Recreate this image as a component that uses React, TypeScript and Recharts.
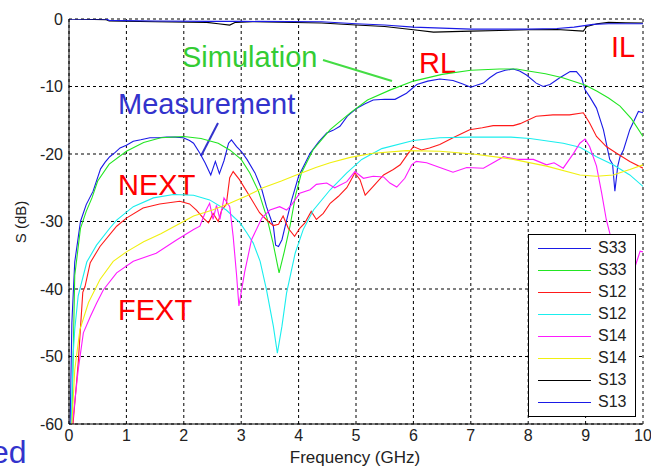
import React from 'react';
import { LineChart, Line, XAxis, YAxis, CartesianGrid, Legend } from 'recharts';

const FREQ_TICKS = [0, 1, 2, 3, 4, 5, 6, 7, 8, 9, 10];
const DB_TICKS = [-60, -50, -40, -30, -20, -10, 0];

// RL measurement (S33, blue)
const S33_MEAS: [number, number][] = [
  [0.02, -60], [0.05, -45], [0.1, -36], [0.2, -30], [0.3, -27.5], [0.42, -25.5], [0.55, -22.2],
  [0.63, -21.2], [0.71, -20.4], [0.8, -19.8], [0.89, -19.1], [1.0, -18.7], [1.12, -18.1],
  [1.25, -17.9], [1.41, -17.6], [1.55, -17.6], [1.7, -17.5], [1.85, -17.5], [1.99, -17.6],
  [2.1, -18.0], [2.17, -18.4], [2.28, -19.9], [2.37, -21.3], [2.47, -23.1], [2.55, -21.1],
  [2.62, -22.9], [2.7, -21.0], [2.78, -18.4], [2.83, -17.9], [2.92, -18.9], [3.0, -19.6],
  [3.1, -20.8], [3.24, -22.8], [3.36, -25.3], [3.44, -27.8], [3.56, -30.7], [3.6, -33.5],
  [3.65, -33.7], [3.71, -32.7], [3.78, -30.2], [3.88, -26.8], [4.0, -23.3], [4.2, -19.9],
  [4.35, -18.2], [4.49, -16.9], [4.6, -16.5], [4.72, -15.9], [4.85, -14.4], [5.0, -13.3],
  [5.15, -12.6], [5.3, -12.0], [5.5, -11.9], [5.68, -11.9], [5.88, -11.0], [6.06, -9.7],
  [6.25, -9.2], [6.46, -8.9], [6.69, -9.1], [6.85, -9.6], [7.0, -10.1], [7.1, -9.8],
  [7.22, -9.5], [7.33, -8.7], [7.45, -8.0], [7.6, -7.6], [7.74, -7.4], [7.85, -7.7],
  [7.97, -8.3], [8.14, -9.5], [8.26, -10.0], [8.38, -9.7], [8.55, -8.7], [8.73, -7.8],
  [8.84, -7.8], [8.93, -8.7], [8.99, -10.5], [9.07, -11.5], [9.19, -13.2], [9.31, -16.4],
  [9.42, -20.8], [9.47, -21.5], [9.51, -25.5], [9.56, -21.8], [9.6, -20.4], [9.66, -19.4],
  [9.77, -16.4], [9.92, -13.7], [10, -13.9],
];

// RL simulation (S33, green)
const S33_SIM: [number, number][] = [
  [0.05, -60], [0.1, -38], [0.2, -31], [0.3, -28.5], [0.4, -26.5], [0.5, -24], [0.7, -21.5],
  [1.0, -19.6], [1.3, -18.3], [1.6, -17.6], [2.0, -17.4], [2.3, -17.7], [2.6, -18.4],
  [2.8, -19.4], [3.0, -20.8], [3.15, -22.8], [3.3, -25.5], [3.45, -29.5], [3.55, -33],
  [3.66, -37.6], [3.75, -34.5], [3.85, -30.7], [3.95, -26], [4.05, -22.8], [4.25, -19.4],
  [4.55, -16.4], [4.9, -13.9], [5.2, -12.0], [5.6, -10.5], [6.0, -9.2], [6.5, -8.2],
  [7.0, -7.6], [7.5, -7.4], [7.8, -7.4], [8.0, -7.7], [8.3, -8.1], [8.6, -8.7], [9.0, -9.8],
  [9.2, -10.7], [9.4, -11.7], [9.6, -12.9], [9.8, -14.8], [10, -17.4],
];

// NEXT measurement (S12, red)
const S12_MEAS: [number, number][] = [
  [0.07, -60], [0.16, -51], [0.24, -40.5], [0.28, -39.6], [0.37, -36.1], [0.54, -33.7],
  [0.83, -30.7], [1.0, -29.5], [1.29, -28.0], [1.58, -27.4], [1.93, -27.0], [2.1, -27.4],
  [2.22, -28.3], [2.34, -29.5], [2.43, -30.2], [2.51, -28.8], [2.6, -30], [2.66, -28.3],
  [2.74, -27.5], [2.8, -23.5], [2.86, -22.6], [2.97, -23.8], [3.15, -26.3], [3.32, -28.7],
  [3.47, -30], [3.56, -30.6], [3.65, -30.4], [3.73, -29.2], [3.82, -31.0], [3.93, -32.2],
  [4.02, -31], [4.11, -30.2], [4.22, -28.5], [4.31, -29.7], [4.43, -28.8], [4.55, -27.3],
  [4.69, -26.3], [4.84, -25], [4.98, -22.8], [5.07, -23.8], [5.16, -26.1], [5.3, -24.8],
  [5.48, -23.1], [5.65, -22.3], [5.77, -21.6], [5.91, -19.9], [6.0, -18.9], [6.14, -19.4],
  [6.28, -19.1], [6.46, -18.6], [6.69, -17.6], [6.98, -16.4], [7.2, -16.1], [7.39, -15.8],
  [7.74, -15.8], [7.86, -15.5], [8.14, -14.4], [8.43, -14.2], [8.72, -14.2], [8.96, -13.9],
  [9.07, -15.4], [9.19, -17.4], [9.36, -18.9], [9.54, -19.9], [9.77, -21.1], [10, -22.1],
];

// NEXT simulation (S12, cyan)
const S12_SIM: [number, number][] = [
  [0.04, -60], [0.07, -50], [0.1, -46], [0.16, -41], [0.31, -36], [0.48, -33.5], [0.71, -31],
  [0.83, -29.8], [1.12, -27.8], [1.47, -26.5], [1.82, -26.0], [2.17, -26.1], [2.45, -26.8],
  [2.74, -28.3], [2.98, -30.2], [3.1, -31.7], [3.21, -33.2], [3.33, -35.9], [3.44, -40.1],
  [3.56, -45.5], [3.63, -49.5], [3.71, -45.5], [3.79, -40.6], [3.94, -34.7], [4.08, -31.2],
  [4.26, -28.3], [4.55, -25.3], [4.84, -22.8], [5.1, -20.8], [5.45, -19.2], [6.0, -18.0],
  [6.46, -17.6], [7.0, -17.5], [7.7, -17.5], [8.03, -17.7], [8.61, -18.4], [8.9, -19.0],
  [9.19, -20.4], [9.48, -21.6], [9.77, -23.1], [10, -24.8],
];

// FEXT measurement (S14, magenta)
const S14_MEAS: [number, number][] = [
  [0.06, -60], [0.16, -52], [0.25, -46.5], [0.37, -44.1], [0.48, -42.1], [0.6, -40.1],
  [0.83, -37.6], [1.12, -35.9], [1.52, -34.7], [1.88, -32.7], [2.17, -31.2], [2.28, -30.7],
  [2.39, -28.3], [2.45, -27.3], [2.51, -29.7], [2.57, -27.6], [2.63, -29.7], [2.7, -26.5],
  [2.8, -27.8], [2.86, -32.2], [2.92, -38], [2.96, -42.5], [3.06, -37.5], [3.18, -32.7],
  [3.36, -29.5], [3.5, -28.3], [3.67, -27.8], [3.79, -28.3], [3.88, -27.5], [4.02, -25.8],
  [4.2, -25.3], [4.31, -24.5], [4.49, -24.3], [4.63, -25.0], [4.84, -24.1], [4.98, -22.6],
  [5.13, -23.6], [5.3, -23.3], [5.48, -23.4], [5.59, -24.3], [5.71, -24.9], [5.85, -23.6],
  [5.97, -21.6], [6.05, -21.1], [6.23, -21.3], [6.46, -22.0], [6.69, -22.7], [6.93, -22.0],
  [7.22, -22.1], [7.45, -21.0], [7.57, -20.4], [7.8, -20.8], [8.09, -20.8], [8.32, -21.6],
  [8.45, -21.3], [8.61, -22.1], [8.79, -19.9], [8.9, -18.4], [8.99, -17.8], [9.07, -18.9],
  [9.19, -21.8], [9.28, -25.8], [9.36, -29.7], [9.45, -32.7], [9.6, -37], [9.75, -39],
  [9.85, -37], [9.9, -35.7], [9.95, -34.4], [10, -34.5],
];

// FEXT simulation (S14, yellow)
const S14_SIM: [number, number][] = [
  [0.05, -60], [0.1, -52], [0.19, -46], [0.34, -42], [0.54, -38.6], [0.77, -35.9], [1.0, -34.5],
  [1.3, -33], [1.6, -31.8], [1.93, -30.3], [2.17, -29.2], [2.5, -28.3], [2.8, -27.3],
  [3.1, -26.2], [3.38, -25.0], [3.7, -24.0], [3.96, -23.1], [4.3, -22], [4.55, -21.3],
  [4.9, -20.5], [5.3, -19.9], [5.88, -19.5], [6.46, -19.6], [7.04, -20.0], [7.5, -20.5],
  [7.74, -20.8], [8.32, -21.8], [8.9, -23.1], [9.19, -23.3], [9.48, -23.1], [9.77, -22.3],
  [10, -21.6],
];

// IL simulation (S13, black)
const S13_SIM: [number, number][] = [
  [0, 0], [0.65, -0.1], [0.7, -0.3], [1.5, -0.4], [2.4, -0.5], [2.6, -0.7], [2.8, -0.9],
  [2.9, -0.5], [3.2, -0.4], [4.4, -0.6], [5.0, -0.9], [5.5, -1.1], [6.0, -1.6], [6.35, -1.95],
  [7.0, -1.8], [7.5, -1.7], [8.0, -1.6], [8.5, -1.55], [8.96, -1.8], [9.02, -1.1], [9.2, -0.7],
  [9.4, -0.5], [9.7, -0.55], [10, -0.6],
];

// IL measurement (S13, blue)
const S13_MEAS: [number, number][] = [
  [0, 0], [0.65, 0], [0.7, -0.2], [1.5, -0.3], [2.4, -0.35], [3.0, -0.35], [4.4, -0.4],
  [5.0, -0.7], [5.5, -0.9], [6.0, -1.2], [7.0, -1.5], [8.0, -1.5], [8.5, -1.4], [8.8, -1.2],
  [9.13, -0.8], [9.4, -0.7], [10, -0.7],
];

const BLUE = '#1a1ae6';
const GREEN = '#22e622';
const RED = '#ff1a1a';
const CYAN = '#1aeeee';
const MAGENTA = '#ff1aff';
const YELLOW = '#f0f010';
const BLACK = '#000000';

const SERIES = [
  { key: 's33m', name: 'S33', color: BLUE, points: S33_MEAS },
  { key: 's33s', name: 'S33', color: GREEN, points: S33_SIM },
  { key: 's12m', name: 'S12', color: RED, points: S12_MEAS },
  { key: 's12s', name: 'S12', color: CYAN, points: S12_SIM },
  { key: 's14m', name: 'S14', color: MAGENTA, points: S14_MEAS },
  { key: 's14s', name: 'S14', color: YELLOW, points: S14_SIM },
  { key: 's13s', name: 'S13', color: BLACK, points: S13_SIM },
  { key: 's13m', name: 'S13', color: BLUE, points: S13_MEAS },
];

const toRows = (pts: [number, number][]) => pts.map(([f, v]) => ({ f, v }));

const FONT = '"Liberation Sans", Arial, sans-serif';

const LegendBox = () => (
  <div
    style={{
      boxSizing: 'border-box',
      width: 108,
      height: 183,
      border: '1px solid #000',
      background: '#fff',
      paddingTop: 2,
      fontFamily: FONT,
    }}
  >
    {SERIES.map((s) => (
      <div key={s.key} style={{ height: 22, display: 'flex', alignItems: 'center' }}>
        <div style={{ marginLeft: 9, width: 53, height: 0, borderTop: `1.5px solid ${s.color}` }} />
        <span style={{ marginLeft: 7, fontSize: 16, color: '#222', lineHeight: '22px' }}>{s.name}</span>
      </div>
    ))}
  </div>
);

export default function App() {
  return (
    <div style={{ position: 'absolute', left: 0, top: 0, width: 651, height: 466, background: '#fff', fontFamily: FONT }}>
      <LineChart width={651} height={466} margin={{ top: 19, right: 8, bottom: 12, left: 9 }}>
        <CartesianGrid stroke="#000" strokeDasharray="3 3" strokeWidth={1} />
        <XAxis
          dataKey="f"
          type="number"
          domain={[0, 10]}
          ticks={FREQ_TICKS}
          interval={0}
          allowDataOverflow
          height={30}
          tickLine={false}
          tickSize={4}
          tickMargin={2}
          axisLine={{ stroke: '#000' }}
          tick={{ fill: '#222', fontSize: 16, fontFamily: FONT }}
        />
        <YAxis
          type="number"
          domain={[-60, 0]}
          ticks={DB_TICKS}
          interval={0}
          allowDataOverflow
          width={60}
          tickLine={false}
          tickSize={4}
          tickMargin={2}
          axisLine={{ stroke: '#000' }}
          tick={{ fill: '#222', fontSize: 16, fontFamily: FONT }}
        />
        <XAxis
          xAxisId="top"
          orientation="top"
          type="number"
          domain={[0, 10]}
          ticks={FREQ_TICKS}
          interval={0}
          allowDataOverflow
          mirror
          height={0}
          tick={false}
          tickSize={5}
          tickLine={{ stroke: '#000' }}
          axisLine={{ stroke: '#000' }}
        />
        <XAxis
          xAxisId="bottomIn"
          orientation="bottom"
          type="number"
          domain={[0, 10]}
          ticks={FREQ_TICKS}
          interval={0}
          allowDataOverflow
          mirror
          height={0}
          tick={false}
          tickSize={5}
          tickLine={{ stroke: '#000' }}
          axisLine={false}
        />
        <YAxis
          yAxisId="right"
          orientation="right"
          type="number"
          domain={[-60, 0]}
          ticks={DB_TICKS}
          interval={0}
          allowDataOverflow
          mirror
          width={0}
          tick={false}
          tickSize={5}
          tickLine={{ stroke: '#000' }}
          axisLine={{ stroke: '#000' }}
        />
        <YAxis
          yAxisId="leftIn"
          orientation="left"
          type="number"
          domain={[-60, 0]}
          ticks={DB_TICKS}
          interval={0}
          allowDataOverflow
          mirror
          width={0}
          tick={false}
          tickSize={5}
          tickLine={{ stroke: '#000' }}
          axisLine={false}
        />
        {SERIES.map((s) => (
          <Line
            key={s.key}
            data={toRows(s.points)}
            dataKey="v"
            name={s.name}
            type="linear"
            stroke={s.color}
            strokeWidth={1.1}
            dot={false}
            activeDot={false}
            isAnimationActive={false}
          />
        ))}
        <Legend
          layout="vertical"
          align="center"
          verticalAlign="middle"
          content={() => <LegendBox />}
          wrapperStyle={{ position: 'absolute', left: 528, top: 234, width: 108, height: 183, margin: 0 }}
        />
        <text x={182} y={67} fontSize={29} fill="#33cc33" fontFamily={FONT}>Simulation</text>
        <line x1={323} y1={60} x2={392} y2={81} stroke="#44dd44" strokeWidth={2} />
        <text x={118} y={114} fontSize={29} fill="#3333cc" fontFamily={FONT}>Measurement</text>
        <line x1={218} y1={123} x2={201} y2={156} stroke="#3333cc" strokeWidth={2} />
        <text x={419} y={73} fontSize={29} fill="#ff0000" fontFamily={FONT}>RL</text>
        <text x={611} y={57} fontSize={29} fill="#ff0000" fontFamily={FONT}>IL</text>
        <text x={118} y={195} fontSize={29} fill="#ff0000" fontFamily={FONT}>NEXT</text>
        <text x={118} y={320} fontSize={29} fill="#ff0000" fontFamily={FONT}>FEXT</text>
        <text x={355} y={463} fontSize={17} fill="#222" textAnchor="middle" fontFamily={FONT}>Frequency (GHz)</text>
        <text x={26} y={222} fontSize={15} fill="#222" textAnchor="middle" fontFamily={FONT} transform="rotate(-90, 26, 222)">S (dB)</text>
        <text x={-9} y={463} fontSize={32} fill="#3333cc" fontFamily={FONT}>ed</text>
      </LineChart>
    </div>
  );
}
